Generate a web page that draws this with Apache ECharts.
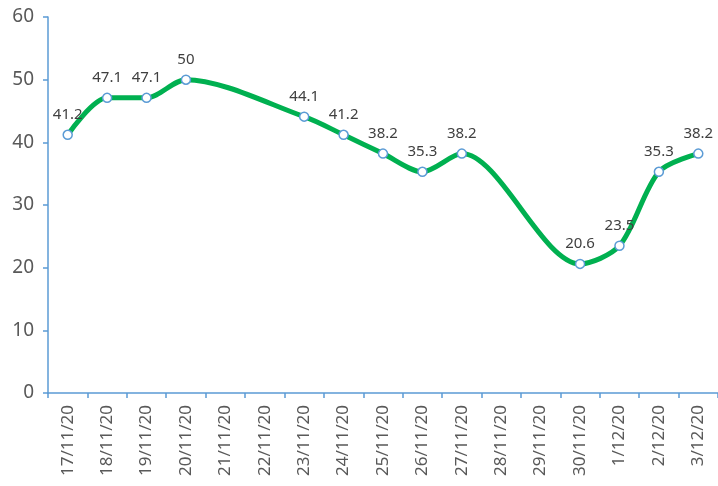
<!DOCTYPE html>
<html><head><meta charset="utf-8">
<script src="https://cdn.jsdelivr.net/npm/echarts@6/dist/echarts.min.js"></script>
<style>html,body{margin:0;padding:0;background:#fff}#c{width:718px;height:486px}</style>
</head><body><div id="c"></div>
<script>
var categories = ['17/11/20','18/11/20','19/11/20','20/11/20','21/11/20','22/11/20','23/11/20','24/11/20','25/11/20','26/11/20','27/11/20','28/11/20','29/11/20','30/11/20','1/12/20','2/12/20','3/12/20'];
var values = [41.2, 47.1, 47.1, 50, null, null, 44.1, 41.2, 38.2, 35.3, 38.2, null, null, 20.6, 23.5, 35.3, 38.2];
var yMin = 0, yMax = 60, yStep = 10;

var chart = echarts.init(document.getElementById('c'), null, {renderer:'canvas'});
chart.setOption({
  animation: false,
  grid: {left: 48, right: -4, top: 17, bottom: 93, containLabel: false},
  xAxis: {
    type: 'category', data: categories, boundaryGap: true,
    axisLine: {lineStyle: {color: '#5b9bd5', width: 1.5}},
    axisTick: {show: true, length: 5, lineStyle: {color: '#5b9bd5', width: 1.5}},
    axisLabel: {rotate: 90, margin: 12, color: '#595959', fontSize: 17, fontFamily: 'Noto Sans', interval: 0}
  },
  yAxis: {
    type: 'value', min: yMin, max: yMax, interval: yStep,
    axisLine: {show: true, lineStyle: {color: '#5b9bd5', width: 1.5}},
    axisTick: {show: true, length: 5, lineStyle: {color: '#5b9bd5', width: 1.5}},
    splitLine: {show: false},
    axisLabel: {margin: 14, color: '#595959', fontSize: 19, fontFamily: 'Noto Sans'}
  },
  series: [{
    type: 'line', data: values, connectNulls: true, smooth: 0.3,
    lineStyle: {color: '#00b050', width: 5},
    symbol: 'circle', symbolSize: 9,
    itemStyle: {color: '#ffffff', borderColor: '#5b9bd5', borderWidth: 1.5},
    label: {show: true, position: 'top', distance: 7, color: '#404040', fontSize: 15, fontFamily: 'Noto Sans'}
  }]
});
</script></body></html>
